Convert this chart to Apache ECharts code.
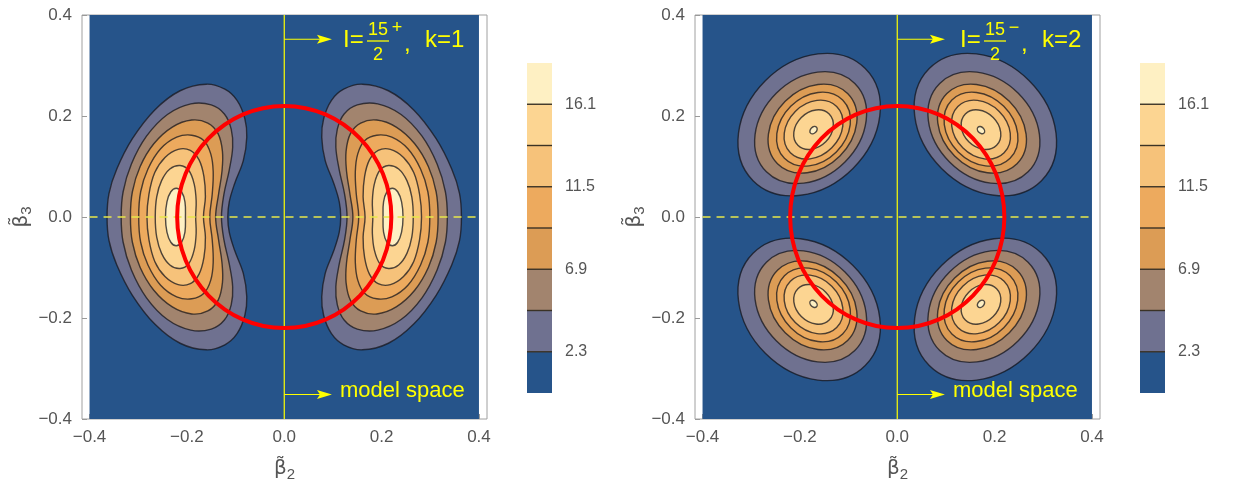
<!DOCTYPE html>
<html><head><meta charset="utf-8">
<script src="https://cdn.jsdelivr.net/npm/echarts@6/dist/echarts.min.js"></script>
<style>html,body{margin:0;padding:0;background:#fff}#c{width:1239px;height:485px}</style>
</head><body><div id="c"></div>
<script>
// ---------- data ----------
const levels = [0, 2.3, 4.6, 6.9, 9.2, 11.5, 13.8, 16.1, 18.4];
const levelTicks = [2.3, 6.9, 11.5, 16.1];
const axisTicks = [-0.4, -0.2, 0, 0.2, 0.4];
const plotRange = [-0.4, 0.4];
const modelRadius = 0.22;

// k=1 panel: upper half of the left lobe, one contour per level (2.3 ... 16.1)
const k1UpperContours = [
  [[-0.364,0],[-0.360,0.047],[-0.344,0.095],[-0.312,0.155],[-0.266,0.212],[-0.214,0.250],[-0.160,0.263],[-0.122,0.253],[-0.097,0.231],[-0.081,0.195],[-0.077,0.158],[-0.084,0.112],[-0.102,0.066],[-0.113,0.030],[-0.116,0]],
  [[-0.335,0],[-0.331,0.050],[-0.314,0.105],[-0.283,0.160],[-0.240,0.203],[-0.192,0.224],[-0.150,0.222],[-0.123,0.204],[-0.109,0.174],[-0.106,0.138],[-0.113,0.093],[-0.124,0.045],[-0.129,0]],
  [[-0.316,0],[-0.312,0.050],[-0.296,0.100],[-0.268,0.145],[-0.230,0.178],[-0.190,0.192],[-0.157,0.186],[-0.136,0.165],[-0.127,0.130],[-0.128,0.090],[-0.135,0.045],[-0.141,0]],
  [[-0.299,0],[-0.295,0.050],[-0.280,0.095],[-0.254,0.135],[-0.221,0.158],[-0.190,0.162],[-0.165,0.151],[-0.151,0.125],[-0.146,0.090],[-0.148,0.045],[-0.153,0]],
  [[-0.282,0],[-0.278,0.045],[-0.266,0.088],[-0.245,0.118],[-0.218,0.134],[-0.193,0.132],[-0.175,0.113],[-0.165,0.080],[-0.162,0.040],[-0.166,0]],
  [[-0.265,0],[-0.262,0.040],[-0.252,0.072],[-0.235,0.095],[-0.214,0.102],[-0.196,0.092],[-0.185,0.065],[-0.181,0.032],[-0.182,0]],
  [[-0.244,0],[-0.241,0.030],[-0.233,0.050],[-0.222,0.057],[-0.211,0.050],[-0.204,0.030],[-0.203,0]]
];

// k=2 panel: upper-left lobe contours (2.3 ... 16.1) as tilted ellipses:
// [centre b2, centre b3, semi-major, semi-minor, tilt in degrees]
const k2LobeEllipses = [
  [-0.181, 0.183, 0.160, 0.125, 45],
  [-0.178, 0.177, 0.126, 0.098, 45],
  [-0.174, 0.175, 0.100, 0.078, 45],
  [-0.172, 0.174, 0.083, 0.065, 45],
  [-0.172, 0.173, 0.066, 0.052, 45],
  [-0.172, 0.173, 0.0446, 0.0348, 45],
  [-0.172, 0.172, 0.0085, 0.0060, 45]
];

// ---------- styles ----------
const bandColors = ['#26548A','#6F7190','#A2846E','#DC9C55','#EDAA5E','#F6C27A','#FCD592','#FEF0C3'];
const FONT = 'Liberation Sans, Arial, sans-serif';
const YEL = '#FFFF00';
const LINE_STROKE = 'rgba(22,22,28,0.75)';

// ---------- build contours via the plot's symmetry ----------
const mirX = pts => pts.map(([x,y]) => [-x, y]);
const mirY = pts => pts.map(([x,y]) => [x, -y]);
const k1Polys = [];
k1UpperContours.forEach((up, i) => {
  const full = up.concat(mirY(up.slice(1, -1)).reverse());
  k1Polys.push({level: i + 1, pts: full});
  k1Polys.push({level: i + 1, pts: mirX(full)});
});
const k2Rows = [];
k2LobeEllipses.forEach(([cx, cy, a, b, t], i) => {
  [[cx, cy, t], [-cx, cy, -t], [cx, -cy, -t], [-cx, -cy, t]].forEach(([x, y, tt]) =>
    k2Rows.push([x, y, a, b, tt, i + 1]));
});

function k1ContourSeries(gi) {
  return {
    type: 'custom', xAxisIndex: gi, yAxisIndex: gi, z: 2, silent: true,
    data: k1Polys.map((p, i) => [p.pts[0][0], p.pts[0][1], i]),
    renderItem: (params, api) => {
      const p = k1Polys[api.value(2)];
      return {
        type: 'polygon',
        shape: {points: p.pts.map(q => api.coord(q)), smooth: 0.38},
        style: {fill: bandColors[p.level], stroke: LINE_STROKE, lineWidth: 1.4}
      };
    }
  };
}
function k2ContourSeries(gi) {
  return {
    type: 'custom', xAxisIndex: gi, yAxisIndex: gi, z: 2, silent: true,
    data: k2Rows,
    renderItem: (params, api) => {
      const c = api.coord([api.value(0), api.value(1)]);
      const sa = api.size([api.value(2), api.value(2)]);
      const sb = api.size([api.value(3), api.value(3)]);
      return {
        type: 'ellipse', x: c[0], y: c[1], rotation: api.value(4) * Math.PI / 180,
        shape: {cx: 0, cy: 0, rx: (sa[0] + sa[1]) / 2, ry: (sb[0] + sb[1]) / 2},
        style: {fill: bandColors[api.value(5)], stroke: LINE_STROKE, lineWidth: 1.4}
      };
    }
  };
}

function panelSeries(gi, contourSeries) {
  return [
    { // background band (below 2.3)
      type: 'custom', xAxisIndex: gi, yAxisIndex: gi, z: 1, silent: true,
      data: [[plotRange[0], plotRange[0], plotRange[1], plotRange[1]]],
      renderItem: (params, api) => {
        const a = api.coord([api.value(0), api.value(3)]);
        const b = api.coord([api.value(2), api.value(1)]);
        return {type: 'rect', shape: {x: a[0], y: a[1], width: b[0]-a[0], height: b[1]-a[1]}, style: {fill: bandColors[0]}};
      }
    },
    contourSeries,
    {
      type: 'line', xAxisIndex: gi, yAxisIndex: gi, z: 3, silent: true, symbol: 'none',
      data: [[0, plotRange[0]], [0, plotRange[1]]],
      lineStyle: {color: YEL, width: 1.2}
    },
    {
      type: 'line', xAxisIndex: gi, yAxisIndex: gi, z: 3, silent: true, symbol: 'none',
      data: [[plotRange[0], 0], [plotRange[1], 0]],
      lineStyle: {color: '#E8E84A', width: 1.5, type: [8, 6]}
    },
    { // model-space circle
      type: 'custom', xAxisIndex: gi, yAxisIndex: gi, z: 4, silent: true,
      data: [[0, 0, modelRadius]],
      renderItem: (params, api) => {
        const c = api.coord([api.value(0), api.value(1)]);
        const s = api.size([api.value(2), api.value(2)]);
        return {type: 'ellipse', shape: {cx: c[0], cy: c[1], rx: s[0], ry: s[1]},
                style: {fill: null, stroke: '#FF0000', lineWidth: 4}};
      }
    },
    { // annotation arrows
      type: 'custom', xAxisIndex: gi, yAxisIndex: gi, z: 5, silent: true,
      data: [[0, 0.352, 0.098], [0, -0.3515, 0.098]],
      renderItem: (params, api) => {
        const a = api.coord([api.value(0), api.value(1)]);
        const b = api.coord([api.value(2), api.value(1)]);
        return {type: 'group', children: [
          {type: 'line', shape: {x1: a[0], y1: a[1], x2: b[0]-10, y2: b[1]}, style: {stroke: YEL, lineWidth: 1.2}},
          {type: 'polygon', shape: {points: [[b[0], b[1]], [b[0]-15, b[1]-4.5], [b[0]-12, b[1]], [b[0]-15, b[1]+4.5]]}, style: {fill: YEL}}
        ]};
      }
    }
  ];
}

function colorbarSeries(idx) {
  return {
    type: 'custom', xAxisIndex: idx, yAxisIndex: idx, silent: true, z: 2,
    data: levels.slice(0, -1).map((lo, i) => [0, lo, levels[i+1], i]),
    renderItem: (params, api) => {
      const a = api.coord([0, api.value(2)]);
      const b = api.coord([1, api.value(1)]);
      const i = api.value(3);
      const ch = [{type: 'rect', shape: {x: a[0], y: a[1], width: b[0]-a[0], height: b[1]-a[1]}, style: {fill: bandColors[i]}}];
      if (i > 0) ch.push({type: 'line', shape: {x1: a[0], y1: b[1], x2: b[0], y2: b[1]}, style: {stroke: '#3a3225', lineWidth: 1.4}});
      return {type: 'group', children: ch};
    }
  };
}

const fmt = v => (v < 0 ? '\u2212' : '') + Math.abs(v).toFixed(1);
const labelStyle = {color: '#555', fontSize: 17, fontFamily: FONT};
const nameStyle = {
  color: '#555',
  rich: {
    b: {fontSize: 20, lineHeight: 26, color: '#555', fontFamily: 'DejaVu Sans, sans-serif'},
    s: {fontSize: 15, lineHeight: 15, color: '#555', fontFamily: FONT, verticalAlign: 'bottom'}
  }
};

function plotXAxis(gi) {
  return {
    gridIndex: gi, type: 'value', min: -0.4155, max: 0.4165,
    axisLine: {show: false, onZero: false}, splitLine: {show: false},
    axisTick: {show: true, inside: true, length: 5, customValues: axisTicks, lineStyle: {color: '#999'}},
    axisLabel: Object.assign({customValues: axisTicks, formatter: fmt, margin: 10}, labelStyle),
    name: '{b|\u03B2\u0303}{s|2}', nameLocation: 'middle', nameGap: 37, nameTextStyle: nameStyle
  };
}
function plotYAxis(gi) {
  return {
    gridIndex: gi, type: 'value', min: -0.4, max: 0.4,
    axisLine: {show: false, onZero: false}, splitLine: {show: false},
    axisTick: {show: true, inside: true, length: 5, customValues: axisTicks, lineStyle: {color: '#999'}},
    axisLabel: Object.assign({customValues: axisTicks, formatter: fmt, margin: 10}, labelStyle),
    name: '{b|\u03B2\u0303}{s|3}', nameLocation: 'middle', nameGap: 47, nameTextStyle: nameStyle
  };
}
function cbXAxis(gi) { return {gridIndex: gi, type: 'value', min: 0, max: 1, show: false}; }
function cbYAxis(gi) {
  return {
    gridIndex: gi, type: 'value', min: levels[0], max: levels[levels.length-1], position: 'right',
    axisLine: {show: false}, splitLine: {show: false},
    axisTick: {show: true, inside: false, length: 9, customValues: levelTicks, lineStyle: {color: '#999'}},
    axisLabel: {customValues: levelTicks, formatter: v => v.toFixed(1), margin: 13, color: '#555', fontSize: 16, fontFamily: FONT}
  };
}

function titleGraphics(x0, sign, kText) {
  const t = (text, x, y, size, align) => ({type: 'text', x: x, y: y, z: 100,
    style: {text: text, fill: YEL, font: size + 'px ' + FONT, align: align || 'left', verticalAlign: 'middle'}});
  return [
    t('I=', x0, 40, 24),
    t('15', x0 + 35, 30, 18, 'center'),
    {type: 'line', z: 100, shape: {x1: x0 + 24, y1: 41, x2: x0 + 46, y2: 41}, style: {stroke: YEL, lineWidth: 1.3}},
    t('2', x0 + 35, 55, 18, 'center'),
    t(sign, x0 + 54, 28, 18, 'center'),
    t(',', x0 + 61, 44, 24),
    t(kText, x0 + 82, 40, 24)
  ];
}
function modelText(x0) {
  return {type: 'text', x: x0, y: 391, z: 100, style: {text: 'model space', fill: YEL, font: '22px ' + FONT, verticalAlign: 'middle'}};
}

const gridBase = {outerBoundsMode: 'none', containLabel: false};
const chart = echarts.init(document.getElementById('c'), null, {renderer: 'canvas'});
chart.setOption({
  animation: false,
  backgroundColor: '#fff',
  grid: [
    Object.assign({left: 82, top: 15, width: 405, height: 404, show: true, borderColor: '#a0a0a0', borderWidth: 1, backgroundColor: '#fff'}, gridBase),
    Object.assign({left: 695, top: 15, width: 405, height: 404, show: true, borderColor: '#a0a0a0', borderWidth: 1, backgroundColor: '#fff'}, gridBase),
    Object.assign({left: 527, top: 63, width: 25, height: 330}, gridBase),
    Object.assign({left: 1140, top: 63, width: 25, height: 330}, gridBase)
  ],
  xAxis: [plotXAxis(0), plotXAxis(1), cbXAxis(2), cbXAxis(3)],
  yAxis: [plotYAxis(0), plotYAxis(1), cbYAxis(2), cbYAxis(3)],
  series: [].concat(panelSeries(0, k1ContourSeries(0)), panelSeries(1, k2ContourSeries(1)), [colorbarSeries(2), colorbarSeries(3)]),
  graphic: [].concat(titleGraphics(343, '+', 'k=1'), titleGraphics(960, '\u2212', 'k=2'), [modelText(340), modelText(953)])
});
</script></body></html>
